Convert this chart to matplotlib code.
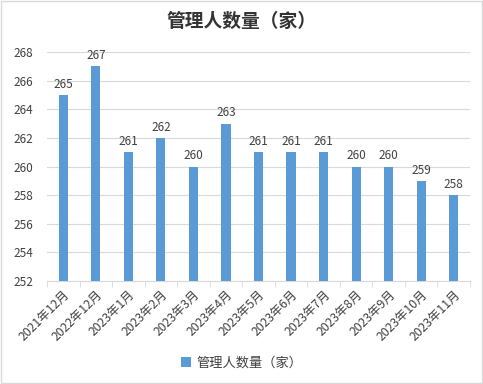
import matplotlib.pyplot as plt
import numpy as np

plt.rcParams['font.family'] = ['Noto Sans CJK SC', 'DejaVu Sans']

months = ['2021年12月', '2022年12月', '2023年1月', '2023年2月', '2023年3月', '2023年4月',
          '2023年5月', '2023年6月', '2023年7月', '2023年8月', '2023年9月', '2023年10月', '2023年11月']
counts = [265, 267, 261, 262, 260, 263, 261, 261, 261, 260, 260, 259, 258]

fig = plt.figure(figsize=(4.83, 3.84), dpi=100)
ax = fig.add_axes([47 / 483, 1 - 281 / 384, 423 / 483, 229 / 384])

x = np.arange(len(months))
bars = ax.bar(x, counts, width=0.28, color='#5b9bd5', label='管理人数量（家）', zorder=3)
for xi, v in zip(x, counts):
    ax.text(xi, v + 0.3, str(v), ha='center', va='bottom', fontsize=8.5, color='#404040')

ax.set_ylim(252, 268)
ax.set_yticks(range(252, 269, 2))
ax.set_xlim(-0.5, len(months) - 0.5)
ax.set_xticks(x)
ax.set_xticklabels(months, rotation=45, ha='right', rotation_mode='anchor', fontsize=8.8, color='#404040')
ax.set_xticks(np.arange(-0.5, len(months), 1), minor=True)
ax.tick_params(axis='x', which='major', length=0, pad=5)
ax.tick_params(axis='x', which='minor', length=4, color='#d9d9d9')
ax.tick_params(axis='y', length=0, labelsize=8.5, labelcolor='#404040', pad=10)
ax.grid(axis='y', color='#d9d9d9', linewidth=0.8, zorder=0)
for s in ['top', 'right', 'left']:
    ax.spines[s].set_visible(False)
ax.spines['bottom'].set_color('#d9d9d9')

fig.text(0.5, 1 - 21 / 384, '管理人数量（家）', ha='center', va='center', fontsize=13.5,
         fontweight='bold', color='#333333')
fig.legend(handles=[bars], loc='center', bbox_to_anchor=(0.5, 1 - 363 / 384), frameon=False,
           fontsize=9.5, labelcolor='#404040', handlelength=0.8, handleheight=0.8, handletextpad=0.4)

fig.patches.append(plt.Rectangle((0.002, 0.002), 0.996, 0.996, transform=fig.transFigure,
                                 fill=False, edgecolor='#d9d9d9', linewidth=1))
fig.savefig('out.png', dpi=100)
